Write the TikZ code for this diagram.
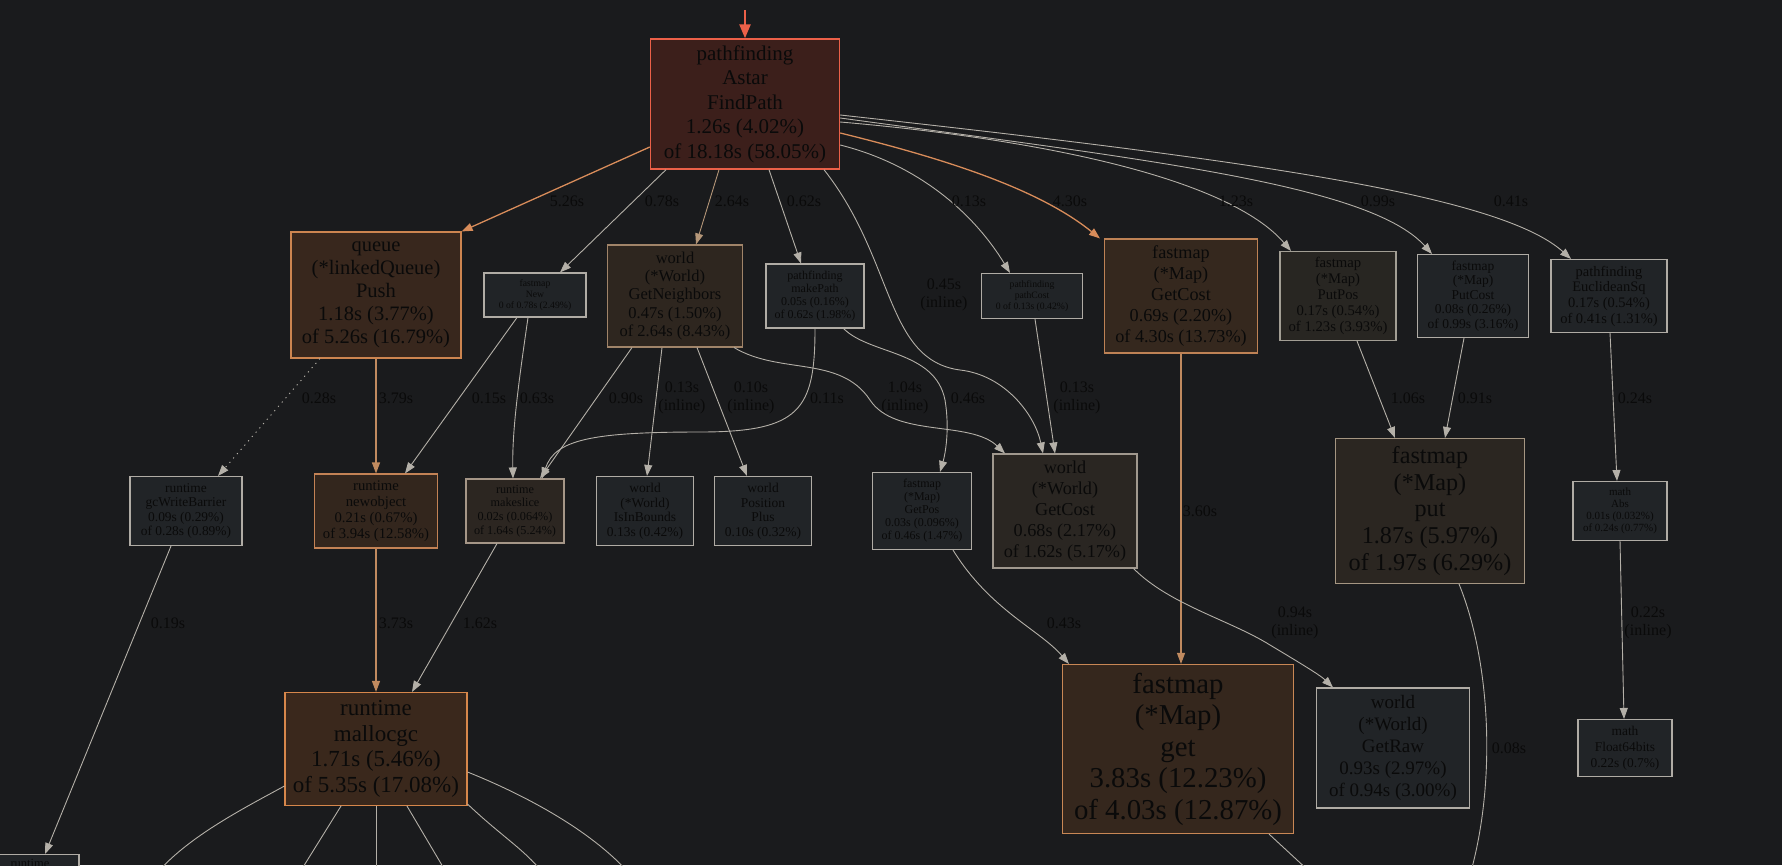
\documentclass[tikz,border=0pt]{standalone}
\usepackage{fontspec}
\setmainfont{Liberation Serif}
\usepackage{tikz}
\usetikzlibrary{arrows.meta}
\usepackage{xcolor}
\definecolor{sfondo}{RGB}{26,27,29}
\definecolor{testo}{RGB}{10,10,10}
\definecolor{grigioarco}{RGB}{180,176,168}
\definecolor{fondogrigio}{RGB}{33,36,39}
\definecolor{bordogrigio}{RGB}{176,172,165}
\definecolor{rossofondo}{RGB}{60,31,27}
\definecolor{rossobordo}{RGB}{236,96,72}
\definecolor{arancio}{RGB}{216,140,90}
\definecolor{arancioscuro}{RGB}{192,138,95}
\definecolor{cuoio}{RGB}{180,150,120}
% fondi e bordi dei nodi caldi
\definecolor{fpush}{RGB}{56,39,29}      \definecolor{bpush}{RGB}{205,133,80}
\definecolor{fneigh}{RGB}{46,38,31}     \definecolor{bneigh}{RGB}{160,132,105}
\definecolor{fmget}{RGB}{53,40,30}      \definecolor{bmget}{RGB}{190,130,85}
\definecolor{fppos}{RGB}{40,38,34}      \definecolor{bppos}{RGB}{162,158,148}
\definecolor{fnobj}{RGB}{51,38,29}      \definecolor{bnobj}{RGB}{195,130,85}
\definecolor{fslice}{RGB}{44,38,33}     \definecolor{bslice}{RGB}{165,150,135}
\definecolor{fwget}{RGB}{42,38,34}      \definecolor{bwget}{RGB}{160,152,142}
\definecolor{fput}{RGB}{43,38,33}       \definecolor{bput}{RGB}{165,150,130}
\definecolor{fmal}{RGB}{58,40,28}       \definecolor{bmal}{RGB}{215,135,75}
\definecolor{fget}{RGB}{53,39,29}       \definecolor{bget}{RGB}{200,135,85}
\newcommand{\corpo}[2]{\fontsize{#1}{#2}\selectfont}
\tikzset{
  scatola/.style={draw, rectangle, inner sep=0pt, align=center, text=testo, line width=1.1pt},
  grigia/.style={scatola, fill=fondogrigio, draw=bordogrigio},
  calda/.style 2 args={scatola, fill=#1, draw=#2},
  arco/.style={draw=grigioarco, line width=0.9pt, -{Triangle[length=11pt,width=8pt]}},
  arcocaldo/.style={arco, draw=arancio, line width=1.3pt},
  arcolibero/.style={draw=grigioarco, line width=0.9pt},
  etichetta/.style={text=testo, align=center, font=\corpo{16}{18.5}}
}

\begin{document}
\begin{tikzpicture}[x=1pt, y=-1pt]
    % sfondo
    \useasboundingbox (0,0) rectangle (1782,865);
    \fill[sfondo] (0,0) rectangle (1782,865);
    \clip (0,0) rectangle (1782,865);
    % primo livello
    \node[calda={rossofondo}{rossobordo}, line width=1.4pt, minimum width=189pt, minimum height=130pt, font=\corpo{21}{24.5}] (findpath) at (745,104) {pathfinding\\Astar\\FindPath\\1.26s (4.02\%)\\of 18.18s (58.05\%)};
    \coordinate (ingresso) at (745,10);
    \draw[draw=rossobordo, line width=2.4pt, -{Triangle[length=14pt,width=11pt]}] (ingresso) -- (findpath.north);
    % secondo livello
    \node[calda={fpush}{bpush}, minimum width=170pt, minimum height=126pt, font=\corpo{20.5}{23}] (push) at (376,295) {queue\\(*linkedQueue)\\Push\\1.18s (3.77\%)\\of 5.26s (16.79\%)};
    \node[grigia, minimum width=102pt, minimum height=44pt, font=\corpo{9.7}{11}] (new) at (535,295) {fastmap\\New\\0 of 0.78s (2.49\%)};
    \node[calda={fneigh}{bneigh}, minimum width=135pt, minimum height=102pt, font=\corpo{16.5}{18.3}] (neighbors) at (675,296) {world\\(*World)\\GetNeighbors\\0.47s (1.50\%)\\of 2.64s (8.43\%)};
    \node[grigia, minimum width=98pt, minimum height=64pt, font=\corpo{12}{13}] (makepath) at (815,296) {pathfinding\\makePath\\0.05s (0.16\%)\\of 0.62s (1.98\%)};
    \node[grigia, minimum width=101pt, minimum height=45pt, font=\corpo{9.7}{11}] (pathcost) at (1032,296) {pathfinding\\pathCost\\0 of 0.13s (0.42\%)};
    \node[calda={fmget}{bmget}, minimum width=153pt, minimum height=114pt, font=\corpo{18.2}{21}] (mgetcost) at (1181,296) {fastmap\\(*Map)\\GetCost\\0.69s (2.20\%)\\of 4.30s (13.73\%)};
    \node[calda={fppos}{bppos}, minimum width=116pt, minimum height=89pt, font=\corpo{14.7}{16}] (putpos) at (1338,296) {fastmap\\(*Map)\\PutPos\\0.17s (0.54\%)\\of 1.23s (3.93\%)};
    \node[grigia, minimum width=111pt, minimum height=83pt, font=\corpo{13.5}{14.6}] (putcost) at (1473,296) {fastmap\\(*Map)\\PutCost\\0.08s (0.26\%)\\of 0.99s (3.16\%)};
    \node[grigia, minimum width=116pt, minimum height=73pt, font=\corpo{14.5}{15.7}] (eucl) at (1609,296) {pathfinding\\EuclideanSq\\0.17s (0.54\%)\\of 0.41s (1.31\%)};
    % terzo livello
    \node[grigia, minimum width=112pt, minimum height=69pt, font=\corpo{13.4}{14.5}] (gcwb) at (186,511) {runtime\\gcWriteBarrier\\0.09s (0.29\%)\\of 0.28s (0.89\%)};
    \node[calda={fnobj}{bnobj}, minimum width=123pt, minimum height=74pt, font=\corpo{14.7}{15.9}] (newobj) at (376,511) {runtime\\newobject\\0.21s (0.67\%)\\of 3.94s (12.58\%)};
    \node[calda={fslice}{bslice}, minimum width=98pt, minimum height=64pt, font=\corpo{12.2}{13.6}] (mkslice) at (515,511) {runtime\\makeslice\\0.02s (0.064\%)\\of 1.64s (5.24\%)};
    \node[grigia, minimum width=97pt, minimum height=69pt, font=\corpo{13.5}{14.5}] (inbounds) at (645,511) {world\\(*World)\\IsInBounds\\0.13s (0.42\%)};
    \node[grigia, minimum width=97pt, minimum height=69pt, font=\corpo{13.5}{14.5}] (plus) at (763,511) {world\\Position\\Plus\\0.10s (0.32\%)};
    \node[grigia, minimum width=99pt, minimum height=77pt, font=\corpo{12}{13}] (getpos) at (922,511) {fastmap\\(*Map)\\GetPos\\0.03s (0.096\%)\\of 0.46s (1.47\%)};
    \node[calda={fwget}{bwget}, minimum width=144pt, minimum height=114pt, font=\corpo{18.2}{21}] (wgetcost) at (1065,511) {world\\(*World)\\GetCost\\0.68s (2.17\%)\\of 1.62s (5.17\%)};
    \node[calda={fput}{bput}, minimum width=189pt, minimum height=145pt, font=\corpo{24.2}{26.7}] (put) at (1430,511) {fastmap\\(*Map)\\put\\1.87s (5.97\%)\\of 1.97s (6.29\%)};
    \node[grigia, minimum width=94pt, minimum height=59pt, font=\corpo{11}{12}] (abs) at (1620,511) {math\\Abs\\0.01s (0.032\%)\\of 0.24s (0.77\%)};
    % quarto livello
    \node[calda={fmal}{bmal}, minimum width=182pt, minimum height=113pt, font=\corpo{23}{25.5}] (malloc) at (376,749) {runtime\\mallocgc\\1.71s (5.46\%)\\of 5.35s (17.08\%)};
    \node[calda={fget}{bget}, minimum width=231pt, minimum height=169pt, font=\corpo{28.8}{31.5}] (get) at (1178,749) {fastmap\\(*Map)\\get\\3.83s (12.23\%)\\of 4.03s (12.87\%)};
    \node[grigia, minimum width=153pt, minimum height=120pt, font=\corpo{19}{21.8}] (getraw) at (1393,748) {world\\(*World)\\GetRaw\\0.93s (2.97\%)\\of 0.94s (3.00\%)};
    \node[grigia, minimum width=94pt, minimum height=57pt, font=\corpo{13.4}{16}] (float) at (1625,748) {math\\Float64bits\\0.22s (0.7\%)};
    \node[grigia, anchor=north, minimum width=98pt, inner ysep=5pt, font=\corpo{12.5}{14}] (rtbl) at (30,854) {runtime};
    % archi da FindPath
    \draw[arcocaldo] ([yshift=-43pt]findpath.west) -- (push.north east);
    \draw[arco] ([xshift=-79pt]findpath.south) -- ([xshift=25pt]new.north);
    \draw[arco, draw=cuoio] ([xshift=-26pt]findpath.south) -- ([xshift=21pt]neighbors.north);
    \draw[arco] ([xshift=24pt]findpath.south) -- ([xshift=-14pt]makepath.north);
    \draw[arco] ([xshift=79pt]findpath.south) .. controls (895,260) and (885,360) .. (960,370) .. controls (1005,375) and (1035,415) .. ([xshift=-22pt]wgetcost.north);
    \draw[arco] ([yshift=-41pt]findpath.east) .. controls (920,165) and (975,215) .. ([xshift=-22pt]pathcost.north);
    \draw[arcocaldo] ([yshift=-29pt]findpath.east) .. controls (950,160) and (1040,190) .. ([xshift=-4pt]mgetcost.north west);
    \draw[arco] ([yshift=-18pt]findpath.east) .. controls (1050,140) and (1230,180) .. ([xshift=-47pt]putpos.north);
    \draw[arco] ([yshift=-14pt]findpath.east) .. controls (1150,160) and (1370,185) .. ([xshift=-41pt]putcost.north);
    \draw[arco] ([yshift=-11pt]findpath.east) .. controls (1250,160) and (1500,195) .. ([xshift=-38pt]eucl.north);
    % archi del secondo livello
    \draw[arco, dash pattern=on 1.2pt off 4.5pt] ([xshift=-56pt]push.south) -- ([xshift=32pt]gcwb.north);
    \draw[arcocaldo, draw=arancioscuro, line width=1.1pt] (push.south) -- (newobj.north);
    \draw[arco] ([xshift=-18pt]new.south) -- ([xshift=29pt]newobj.north);
    \draw[arco] ([xshift=-7pt]new.south) .. controls (519,380) and (512,430) .. ([xshift=-2pt]mkslice.north);
    \draw[arco] ([xshift=-43pt]neighbors.south) -- ([xshift=25pt]mkslice.north);
    \draw[arco] ([xshift=-13pt]neighbors.south) -- ([xshift=2pt]inbounds.north);
    \draw[arco] ([xshift=22pt]neighbors.south) -- ([xshift=-16pt]plus.north);
    \draw[arco] (makepath.south) .. controls (815,410) and (800,432) .. (700,432) .. controls (590,432) and (555,440) .. ([xshift=27pt]mkslice.north);
    \draw[arco] ([xshift=-9pt]neighbors.south east) .. controls (780,375) and (840,355) .. (870,400) .. controls (895,438) and (970,420) .. ([xshift=-60pt]wgetcost.north);
    \draw[arco] ([xshift=-21pt]makepath.south east) .. controls (870,355) and (935,350) .. (945,400) .. controls (950,430) and (945,455) .. ([xshift=18pt]getpos.north);
    \draw[arco] ([xshift=3pt]pathcost.south) -- ([xshift=-10pt]wgetcost.north);
    \draw[arcocaldo, draw=arancioscuro, line width=1.1pt] (mgetcost.south) -- ([xshift=3pt]get.north);
    \draw[arco] ([xshift=19pt]putpos.south) -- ([xshift=-35pt]put.north);
    \draw[arco] ([xshift=-9pt]putcost.south) -- ([xshift=15pt]put.north);
    \draw[arco] ([xshift=1pt]eucl.south) -- ([xshift=-3pt]abs.north);
    % archi del terzo livello
    \draw[arco] ([xshift=-15pt]gcwb.south) -- ([xshift=15pt]rtbl.north);
    \draw[arcocaldo, draw=arancioscuro, line width=1.1pt] (newobj.south) -- (malloc.north);
    \draw[arco] ([xshift=-18pt]mkslice.south) -- ([xshift=36pt]malloc.north);
    \draw[arco] ([xshift=31pt]getpos.south) .. controls (990,610) and (1040,630) .. ([xshift=7pt]get.north west);
    \draw[arco] ([xshift=-4pt]wgetcost.south east) .. controls (1170,605) and (1230,620) .. (1270,645) .. controls (1300,663) and (1320,675) .. ([xshift=-60pt]getraw.north);
    \draw[arco] (abs.south) -- ([xshift=-1pt]float.north);
    % archi che escono dal bordo
    \coordinate (muno) at (158,872);
    \coordinate (mdue) at (300,872);
    \coordinate (mtre) at (376,872);
    \coordinate (mquattro) at (446,872);
    \coordinate (mcinque) at (542,872);
    \coordinate (msei) at (628,872);
    \coordinate (getfuori) at (1310,872);
    \coordinate (putfuori) at (1470,875);
    \draw[arcolibero] ([yshift=-37pt]malloc.west) .. controls (250,805) and (190,835) .. (muno);
    \draw[arcolibero] ([xshift=-35pt]malloc.south) -- (mdue);
    \draw[arcolibero] (malloc.south) -- (mtre);
    \draw[arcolibero] ([xshift=31pt]malloc.south) -- (mquattro);
    \draw[arcolibero] ([yshift=2pt]malloc.south east) .. controls (500,835) and (525,850) .. (mcinque);
    \draw[arcolibero] ([yshift=-23pt]malloc.east) .. controls (525,795) and (590,830) .. (msei);
    \draw[arcolibero] ([xshift=91pt]get.south) -- (getfuori);
    \draw[arcolibero] ([xshift=29pt]put.south) .. controls (1490,660) and (1497,780) .. (putfuori);
    % etichette
    \node[etichetta] (tpush) at (567,201) {5.26s};
    \node[etichetta] (tnew) at (662,201) {0.78s};
    \node[etichetta] (tneigh) at (732,201) {2.64s};
    \node[etichetta] (tmake) at (804,201) {0.62s};
    \node[etichetta] (tpcost) at (969,201) {0.13s};
    \node[etichetta] (tmget) at (1070,201) {4.30s};
    \node[etichetta] (tppos) at (1236,201) {1.23s};
    \node[etichetta] (tpcst) at (1378,201) {0.99s};
    \node[etichetta] (teucl) at (1511,201) {0.41s};
    \node[etichetta] (twget) at (944,295) {0.45s\\(inline)};
    \node[etichetta] (tgcwb) at (319,398) {0.28s};
    \node[etichetta] (tnobj) at (396,398) {3.79s};
    \node[etichetta] (tnewa) at (489,398) {0.15s};
    \node[etichetta] (tnewb) at (537,398) {0.63s};
    \node[etichetta] (tslice) at (626,398) {0.90s};
    \node[etichetta] (tinb) at (682,398) {0.13s\\(inline)};
    \node[etichetta] (tplus) at (751,398) {0.10s\\(inline)};
    \node[etichetta] (tmkp) at (827,398) {0.11s};
    \node[etichetta] (tnwg) at (905,398) {1.04s\\(inline)};
    \node[etichetta] (tgpos) at (968,398) {0.46s};
    \node[etichetta] (tpcwg) at (1077,398) {0.13s\\(inline)};
    \node[etichetta] (tputa) at (1408,398) {1.06s};
    \node[etichetta] (tputb) at (1475,398) {0.91s};
    \node[etichetta] (tabs) at (1635,398) {0.24s};
    \node[etichetta] (tget) at (1200,511) {3.60s};
    \node[etichetta] (trt) at (168,623) {0.19s};
    \node[etichetta] (tmal) at (396,623) {3.73s};
    \node[etichetta] (tmalb) at (480,623) {1.62s};
    \node[etichetta] (tgetb) at (1064,623) {0.43s};
    \node[etichetta] (traw) at (1295,623) {0.94s\\(inline)};
    \node[etichetta] (tflt) at (1648,623) {0.22s\\(inline)};
    \node[etichetta] (tout) at (1509,748) {0.08s};
\end{tikzpicture}
\end{document}
